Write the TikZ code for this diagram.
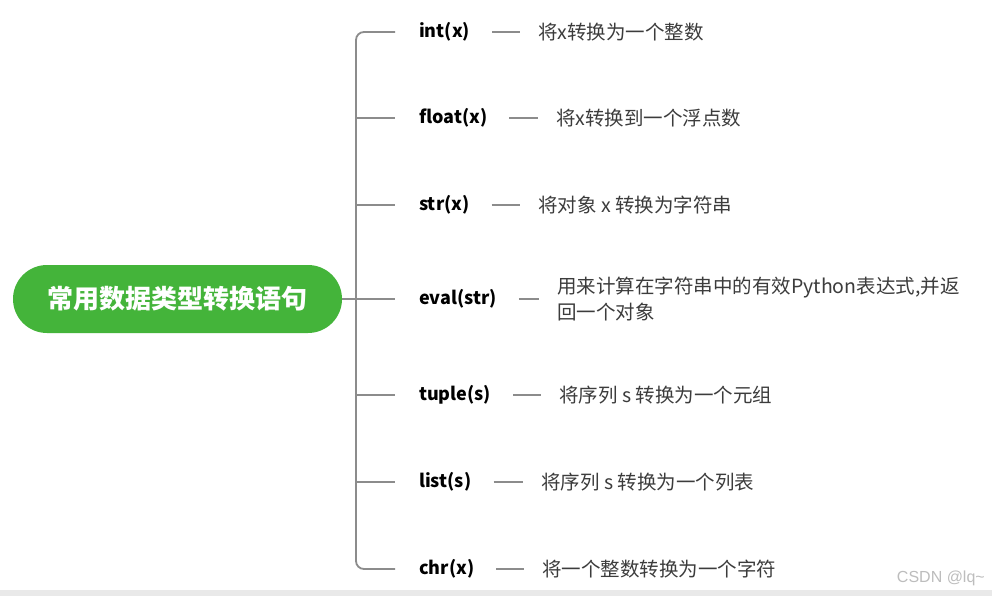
\documentclass[tikz,border=0pt]{standalone}
\usepackage{fontspec}
\setmainfont{Noto Sans CJK SC}
\newfontfamily\wmfont{Liberation Sans}
\usetikzlibrary{positioning,calc}
\definecolor{rootgreen}{HTML}{44B43A}
\definecolor{linegray}{HTML}{8C8C8C}
\definecolor{descgray}{HTML}{3C3C3C}
\definecolor{wmgray}{HTML}{BDBDBD}
\definecolor{bandgray}{HTML}{E9E9E9}

\begin{document}
\begin{tikzpicture}[x=1pt, y=-1pt,
  rootbox/.style={fill=rootgreen, rounded corners=34pt, minimum width=329pt, minimum height=68pt,
                  text=white, font=\fontsize{26}{26}\selectfont\bfseries},
  fname/.style={anchor=west, inner sep=0pt, text=black, font=\fontsize{18}{18}\selectfont\bfseries},
  fdesc/.style={anchor=west, inner sep=0pt, align=left, text=descgray, font=\fontsize{19.5}{26}\selectfont},
  branch/.style={draw=linegray, line width=1.8pt}]
  \useasboundingbox (0,0) rectangle (992,596);
  \fill[white] (0,0) rectangle (992,596);
  \fill[bandgray] (0,590) rectangle (992,596);

  % 根节点
  \node[rootbox] (root) at (177.5,299) {常用数据类型转换语句};

  % 各个转换函数及说明
  \foreach \i/\y/\fn/\dx/\desc in {1/32/int(x)/538/将x转换为一个整数,
                                   2/118/float(x)/556/将x转换到一个浮点数,
                                   3/205/str(x)/538/将对象 x 转换为字符串,
                                   4/299/eval(str)/557/{用来计算在字符串中的有效Python表达式,并返\\回一个对象},
                                   5/395/tuple(s)/559/将序列 s 转换为一个元组,
                                   6/482/list(s)/541/将序列 s 转换为一个列表,
                                   7/569/chr(x)/542/将一个整数转换为一个字符} {
    \coordinate (sp\i) at (356,\y);
    \node[fname] (fn\i) at (419,\y) {\fn};
    \node[fdesc] (ds\i) at (\dx,\y) {\desc};
    % 函数名到说明的短线
    \draw[branch] ([xshift=22pt]fn\i.east) -- ([xshift=-18pt]ds\i.west);
  }

  % 中间的分支
  \foreach \i in {2,...,6} {
    \draw[branch] (sp\i) -- ([xshift=-24pt]fn\i.west);
  }
  % 竖线（上下圆角）
  \draw[branch, rounded corners=8pt] ([xshift=-24pt]fn1.west) -- (sp1) -- (sp7) -- ([xshift=-24pt]fn7.west);
  \draw[branch] (root.east) -- (sp4);

  % 水印
  \node[anchor=east, inner sep=0pt, text=wmgray, font=\wmfont\fontsize{16}{16}\selectfont] (mark) at (985,578) {CSDN @lq\textasciitilde};
\end{tikzpicture}
\end{document}
